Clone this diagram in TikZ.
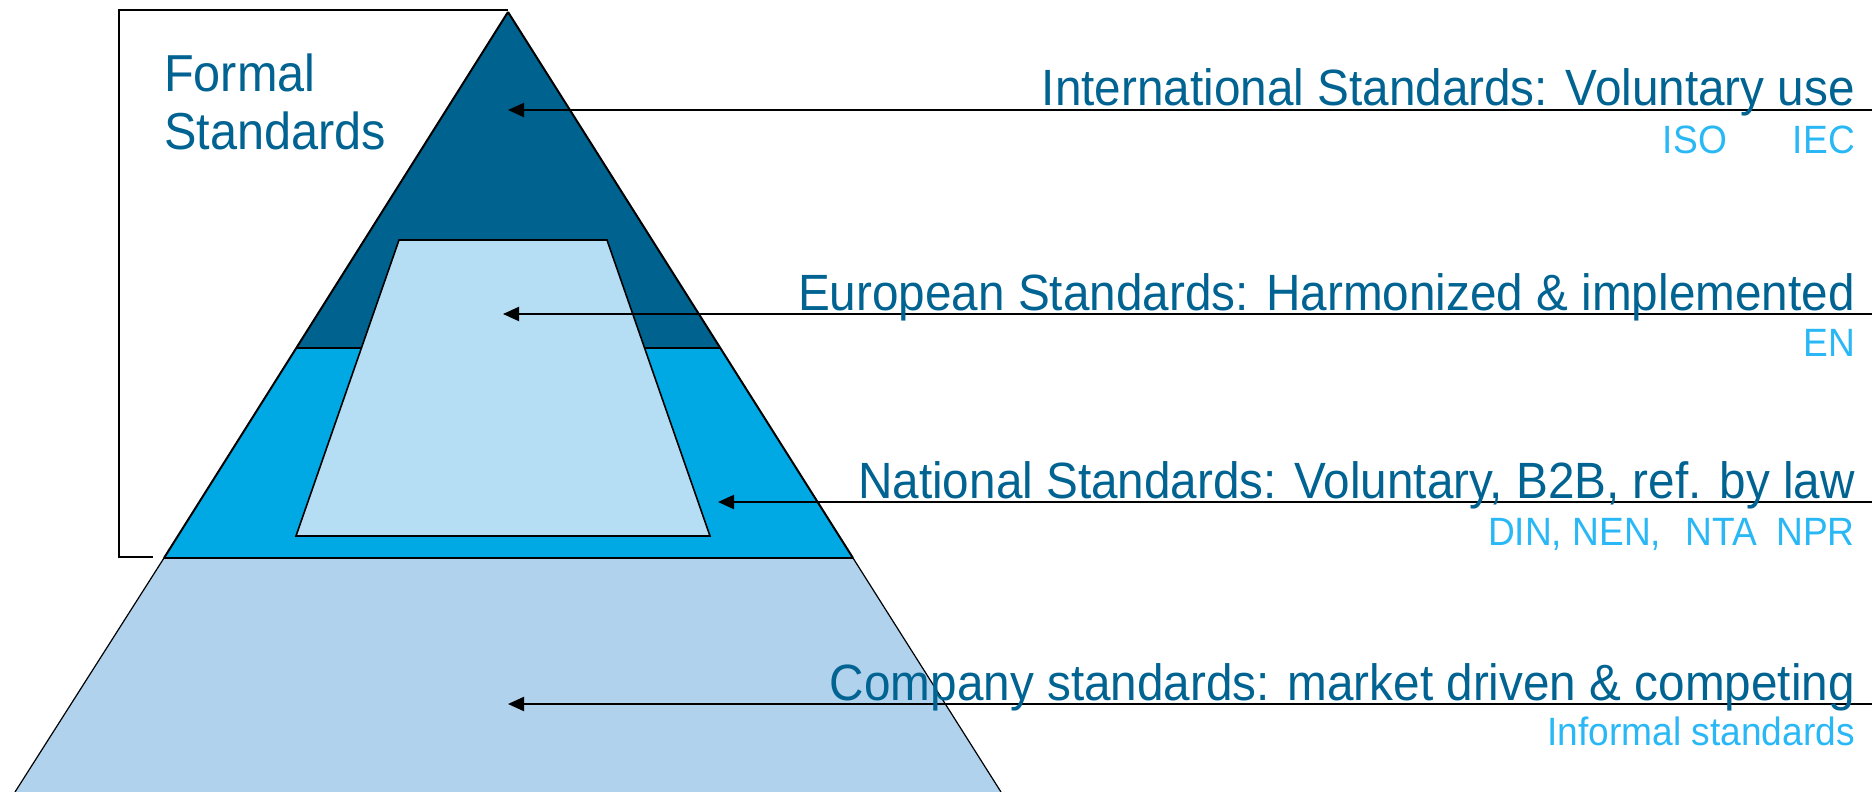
\documentclass[tikz,border=0pt]{standalone}
\usepackage{fontspec}
\usetikzlibrary{arrows.meta}
\newfontfamily\lbl[FakeStretch=0.935]{Liberation Sans}
\newfontfamily\lblsmall[FakeStretch=0.94]{Liberation Sans}
\definecolor{darkblue}{HTML}{00628F}
\definecolor{midblue}{HTML}{00A9E3}
\definecolor{lowblue}{HTML}{B0D2EC}
\definecolor{trapblue}{HTML}{B5DDF3}
\definecolor{titletext}{HTML}{006391}
\definecolor{subtext}{HTML}{29B8F5}
\tikzset{
  bigtxt/.style={font=\lbl\fontsize{51}{58}\selectfont, text=titletext, inner sep=0pt, anchor=base east},
  formaltxt/.style={font=\lbl\fontsize{52}{58}\selectfont, text=titletext, inner sep=0pt, anchor=base west},
  smalltxt/.style={font=\lblsmall\fontsize{39.5}{44}\selectfont, text=subtext, inner sep=0pt, anchor=base east},
  pointer/.style={draw=black, line width=2pt, -{Triangle[length=16pt,width=14pt]}},
  layer/.style={draw=black, line width=2pt, line join=miter},
}
\begin{document}
\begin{tikzpicture}[x=1pt,y=-1pt]
\useasboundingbox (0,0) rectangle (1874,792);
% pyramid layers
\fill[lowblue] (164,558) -- (853,558) -- (1001,792) -- (15,792) -- cycle;
\draw[black, line width=1.2pt] (164,558) -- (15,792);
\draw[black, line width=1.2pt] (853,558) -- (1001,792);
\fill[midblue] (296,348) -- (720,348) -- (853,558) -- (164,558) -- cycle;
\fill[darkblue] (508,12) -- (720,348) -- (296,348) -- cycle;
\draw[layer] (296,348) -- (720,348);
\draw[layer] (164,558) -- (853,558);
\draw[layer] (508,12) -- (853,558);
\draw[layer] (508,12) -- (164,558);
% inner trapezoid
\fill[trapblue] (399,240) -- (607,240) -- (710,536) -- (296,536) -- cycle;
\draw[black, line width=1.6pt] (399,240) -- (607,240) -- (710,536) -- (296,536) -- cycle;
% bracket
\draw[black, line width=1.5pt] (508,10) -- (119,10) -- (119,557) -- (153,557);
\node[formaltxt] (formal) at (164,92) {Formal};
\node[formaltxt] (formal2) at (164,149) {Standards};
% arrows
\coordinate (s1) at (1872,110); \coordinate (t1) at (508,110);
\coordinate (s2) at (1872,314); \coordinate (t2) at (503,314);
\coordinate (s3) at (1872,502); \coordinate (t3) at (718,502);
\coordinate (s4) at (1872,704); \coordinate (t4) at (508,704);
\draw[pointer] (s1) -- (t1);
\draw[pointer] (s2) -- (t2);
\draw[pointer] (s3) -- (t3);
\draw[pointer] (s4) -- (t4);
% labels
\node[bigtxt] (l1) at (1855,106) {International Standards: Voluntary use};
\node[smalltxt] (m1) at (1855,153) {ISO\hspace{66pt}IEC};
\node[bigtxt] (l2) at (1855,310) {European Standards: Harmonized \& implemented};
\node[smalltxt] (m2) at (1855,356) {EN};
\node[bigtxt] (l3) at (1855,498) {National Standards: Voluntary, B2B, ref. by law};
\node[smalltxt] (m3) at (1855,545) {DIN, NEN,\hspace{14pt} NTA\hspace{9pt} NPR};
\node[bigtxt] (l4) at (1855,700) {Company standards: market driven \& competing};
\node[smalltxt] (m4) at (1855,745) {Informal standards};
\end{tikzpicture}
\end{document}
